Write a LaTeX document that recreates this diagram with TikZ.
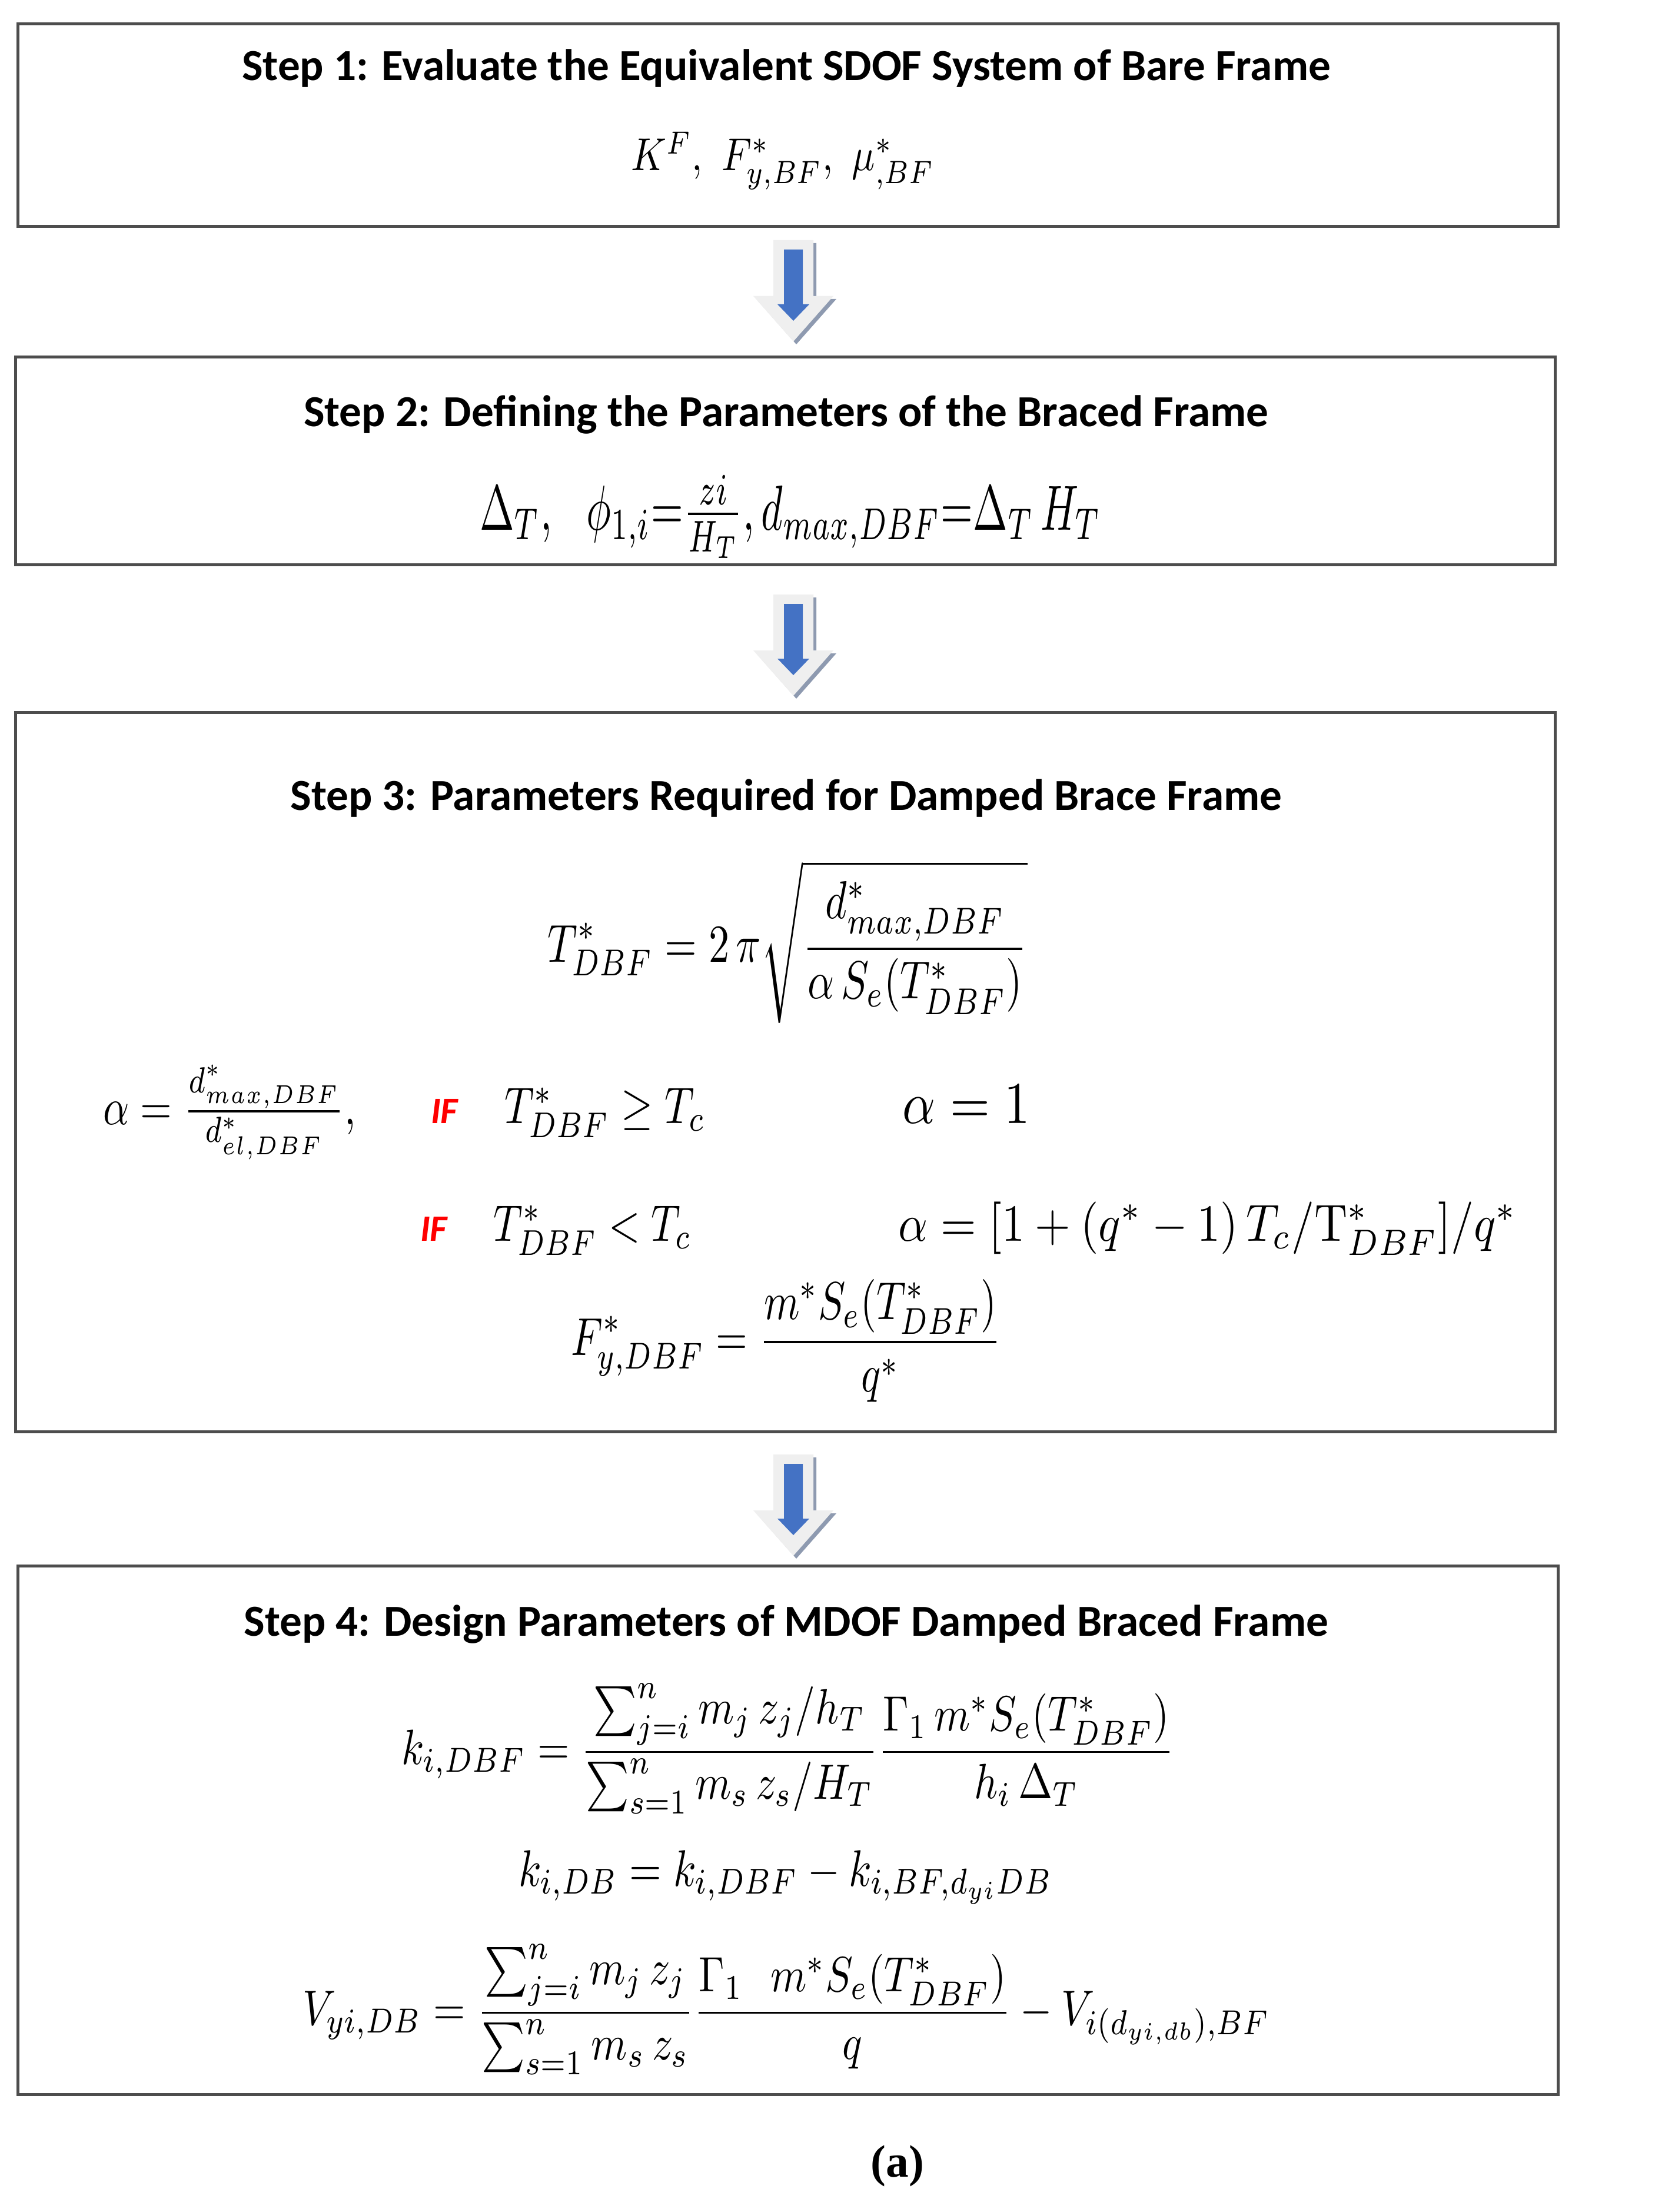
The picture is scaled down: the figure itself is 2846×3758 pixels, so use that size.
\documentclass[tikz,border=0pt]{standalone}
\usepackage{fontspec}
\usepackage{amsmath,graphicx}
\newfontfamily\headfont{Carlito}
\newfontfamily\capfont{Liberation Serif}
\definecolor{boxline}{HTML}{4D4D4D}
\definecolor{arrowblue}{HTML}{4472C4}
\definecolor{arrowgray}{HTML}{EFEFEF}
\definecolor{arrowshadow}{HTML}{8E9AB0}
\definecolor{ifred}{HTML}{FF0000}
\begin{document}
\begin{tikzpicture}[x=0.01cm,y=-0.01cm,
  stepbox/.style={draw=boxline, line width=1.4pt, inner sep=0pt},
  head/.style={font=\headfont\bfseries\fontsize{21.4}{25}\selectfont, inner sep=0pt, anchor=base},
  eq/.style={inner sep=0pt},
  eqb/.style={inner sep=0pt, anchor=base},
  iftext/.style={font=\headfont\bfseries\itshape\fontsize{18}{22}\selectfont, text=ifred, inner sep=0pt, anchor=base},
  downarrow/.pic={
    \fill[arrowshadow] (-29,5) -- (39,5) -- (39,100) -- (73,100) -- (5,177) -- (-63,100) -- (-29,100) -- cycle;
    \fill[arrowgray] (-34,0) -- (34,0) -- (34,95) -- (68,95) -- (0,172) -- (-68,95) -- (-34,95) -- cycle;
    \fill[arrowblue] (-16,16) -- (16,16) -- (16,109) -- (27,109) -- (0,137) -- (-27,109) -- (-16,109) -- cycle;
  }]
\fill[white] (0,0) rectangle (2846,3758);
\useasboundingbox (0,0) rectangle (2846,3758);

% boxes
\node[stepbox, minimum width=26.16cm, minimum height=3.43cm] (box1) at (1339,212.5) {};
\node[stepbox, minimum width=26.15cm, minimum height=3.52cm] (box2) at (1334.5,783) {};
\node[stepbox, minimum width=26.15cm, minimum height=12.21cm] (box3) at (1334.5,1821.5) {};
\node[stepbox, minimum width=26.16cm, minimum height=8.97cm] (box4) at (1339,3109.5) {};

% arrows
\pic at (1348,408) {downarrow};
\pic at (1348,1010) {downarrow};
\pic at (1348,2471) {downarrow};

% step 1
\node[head] (h1) at (1336,137) {Step 1: Evaluate the Equivalent SDOF System of Bare Frame};
\node[eq] (e1) at (1330,273) {\resizebox*{5.15cm}{0.98cm}{$K^{F},\ F^{*}_{y,BF},\ \mu^{*}_{,BF}$}};

% step 2
\node[head] (h2) at (1336,724) {Step 2: Defining the Parameters of the Braced Frame};
\node[eq] (e2) at (1343,878) {\resizebox*{10.55cm}{1.41cm}{$\Delta_{T},\ \ \phi_{1,i}{=}\frac{zi}{H_{T}},d_{max,DBF}{=}\Delta_{T}\,H_{T}$}};

% step 3
\node[head] (h3) at (1336,1376) {Step 3: Parameters Required for Damped Brace Frame};
\node[eq] (eT) at (1338,1600) {\resizebox*{8.15cm}{2.76cm}{$\displaystyle T^{*}_{DBF}=2\,\pi\sqrt{\frac{d^{*}_{max,DBF}}{\alpha\,S_{e}(T^{*}_{DBF})}}$}};
\node[eq] (ea) at (390,1890) {\resizebox*{4.29cm}{1.61cm}{$\alpha=\frac{d^{*}_{max,DBF}}{d^{*}_{el,DBF}},$}};
\node[iftext] (if1) at (755,1908) {IF};
\node[eqb] (c1) at (1028,1908) {\resizebox*{3.41cm}{0.84cm}{$T^{*}_{DBF}\geq T_{c}$}};
\node[eqb] (r1) at (1642,1908) {\resizebox*{2.16cm}{0.65cm}{$\alpha=1$}};
\node[iftext] (if2) at (737,2108) {IF};
\node[eqb] (c2) at (1007,2108) {\resizebox*{3.36cm}{0.84cm}{$T^{*}_{DBF}<T_{c}$}};
\node[eqb] (r2) at (2052,2108) {\resizebox*{10.5cm}{0.91cm}{$\alpha=[1+(q^{*}-1)\,T_{c}/\mathrm{T}^{*}_{DBF}]/q^{*}$}};
\node[eq] (eF) at (1336,2278) {\resizebox*{7.31cm}{2.09cm}{$\displaystyle F^{*}_{y,DBF}=\frac{m^{*}S_{e}(T^{*}_{DBF})}{q^{*}}$}};

% step 4
\node[head] (h4) at (1336,2779) {Step 4: Design Parameters of MDOF Damped Braced Frame};
\node[eq] (ek) at (1339,2971) {\resizebox*{13.12cm}{2.21cm}{$\displaystyle k_{i,DBF}=\frac{\sum_{j=i}^{n} m_{j}\,z_{j}/h_{T}}{\sum_{s=1}^{n} m_{s}\,z_{s}/H_{T}}\frac{\Gamma_{1}\,m^{*}S_{e}(T^{*}_{DBF})}{h_{i}\,\Delta_{T}}$}};
\node[eq] (ekdb) at (1335,3189) {\resizebox*{9.07cm}{0.91cm}{$k_{i,DB}=k_{i,DBF}-k_{i,BF,d_{yi}DB}$}};
\node[eq] (eV) at (1336,3414) {\resizebox*{16.43cm}{2.21cm}{$\displaystyle V_{yi,DB}=\frac{\sum_{j=i}^{n} m_{j}\,z_{j}}{\sum_{s=1}^{n} m_{s}\,z_{s}}\frac{\Gamma_{1}\ \ m^{*}S_{e}(T^{*}_{DBF})}{q}-V_{i(d_{yi,db}),BF}$}};

% caption
\node[inner sep=0pt, font=\capfont\bfseries\fontsize{22}{26}\selectfont] (cap) at (1525,3680) {(a)};
\end{tikzpicture}
\end{document}
